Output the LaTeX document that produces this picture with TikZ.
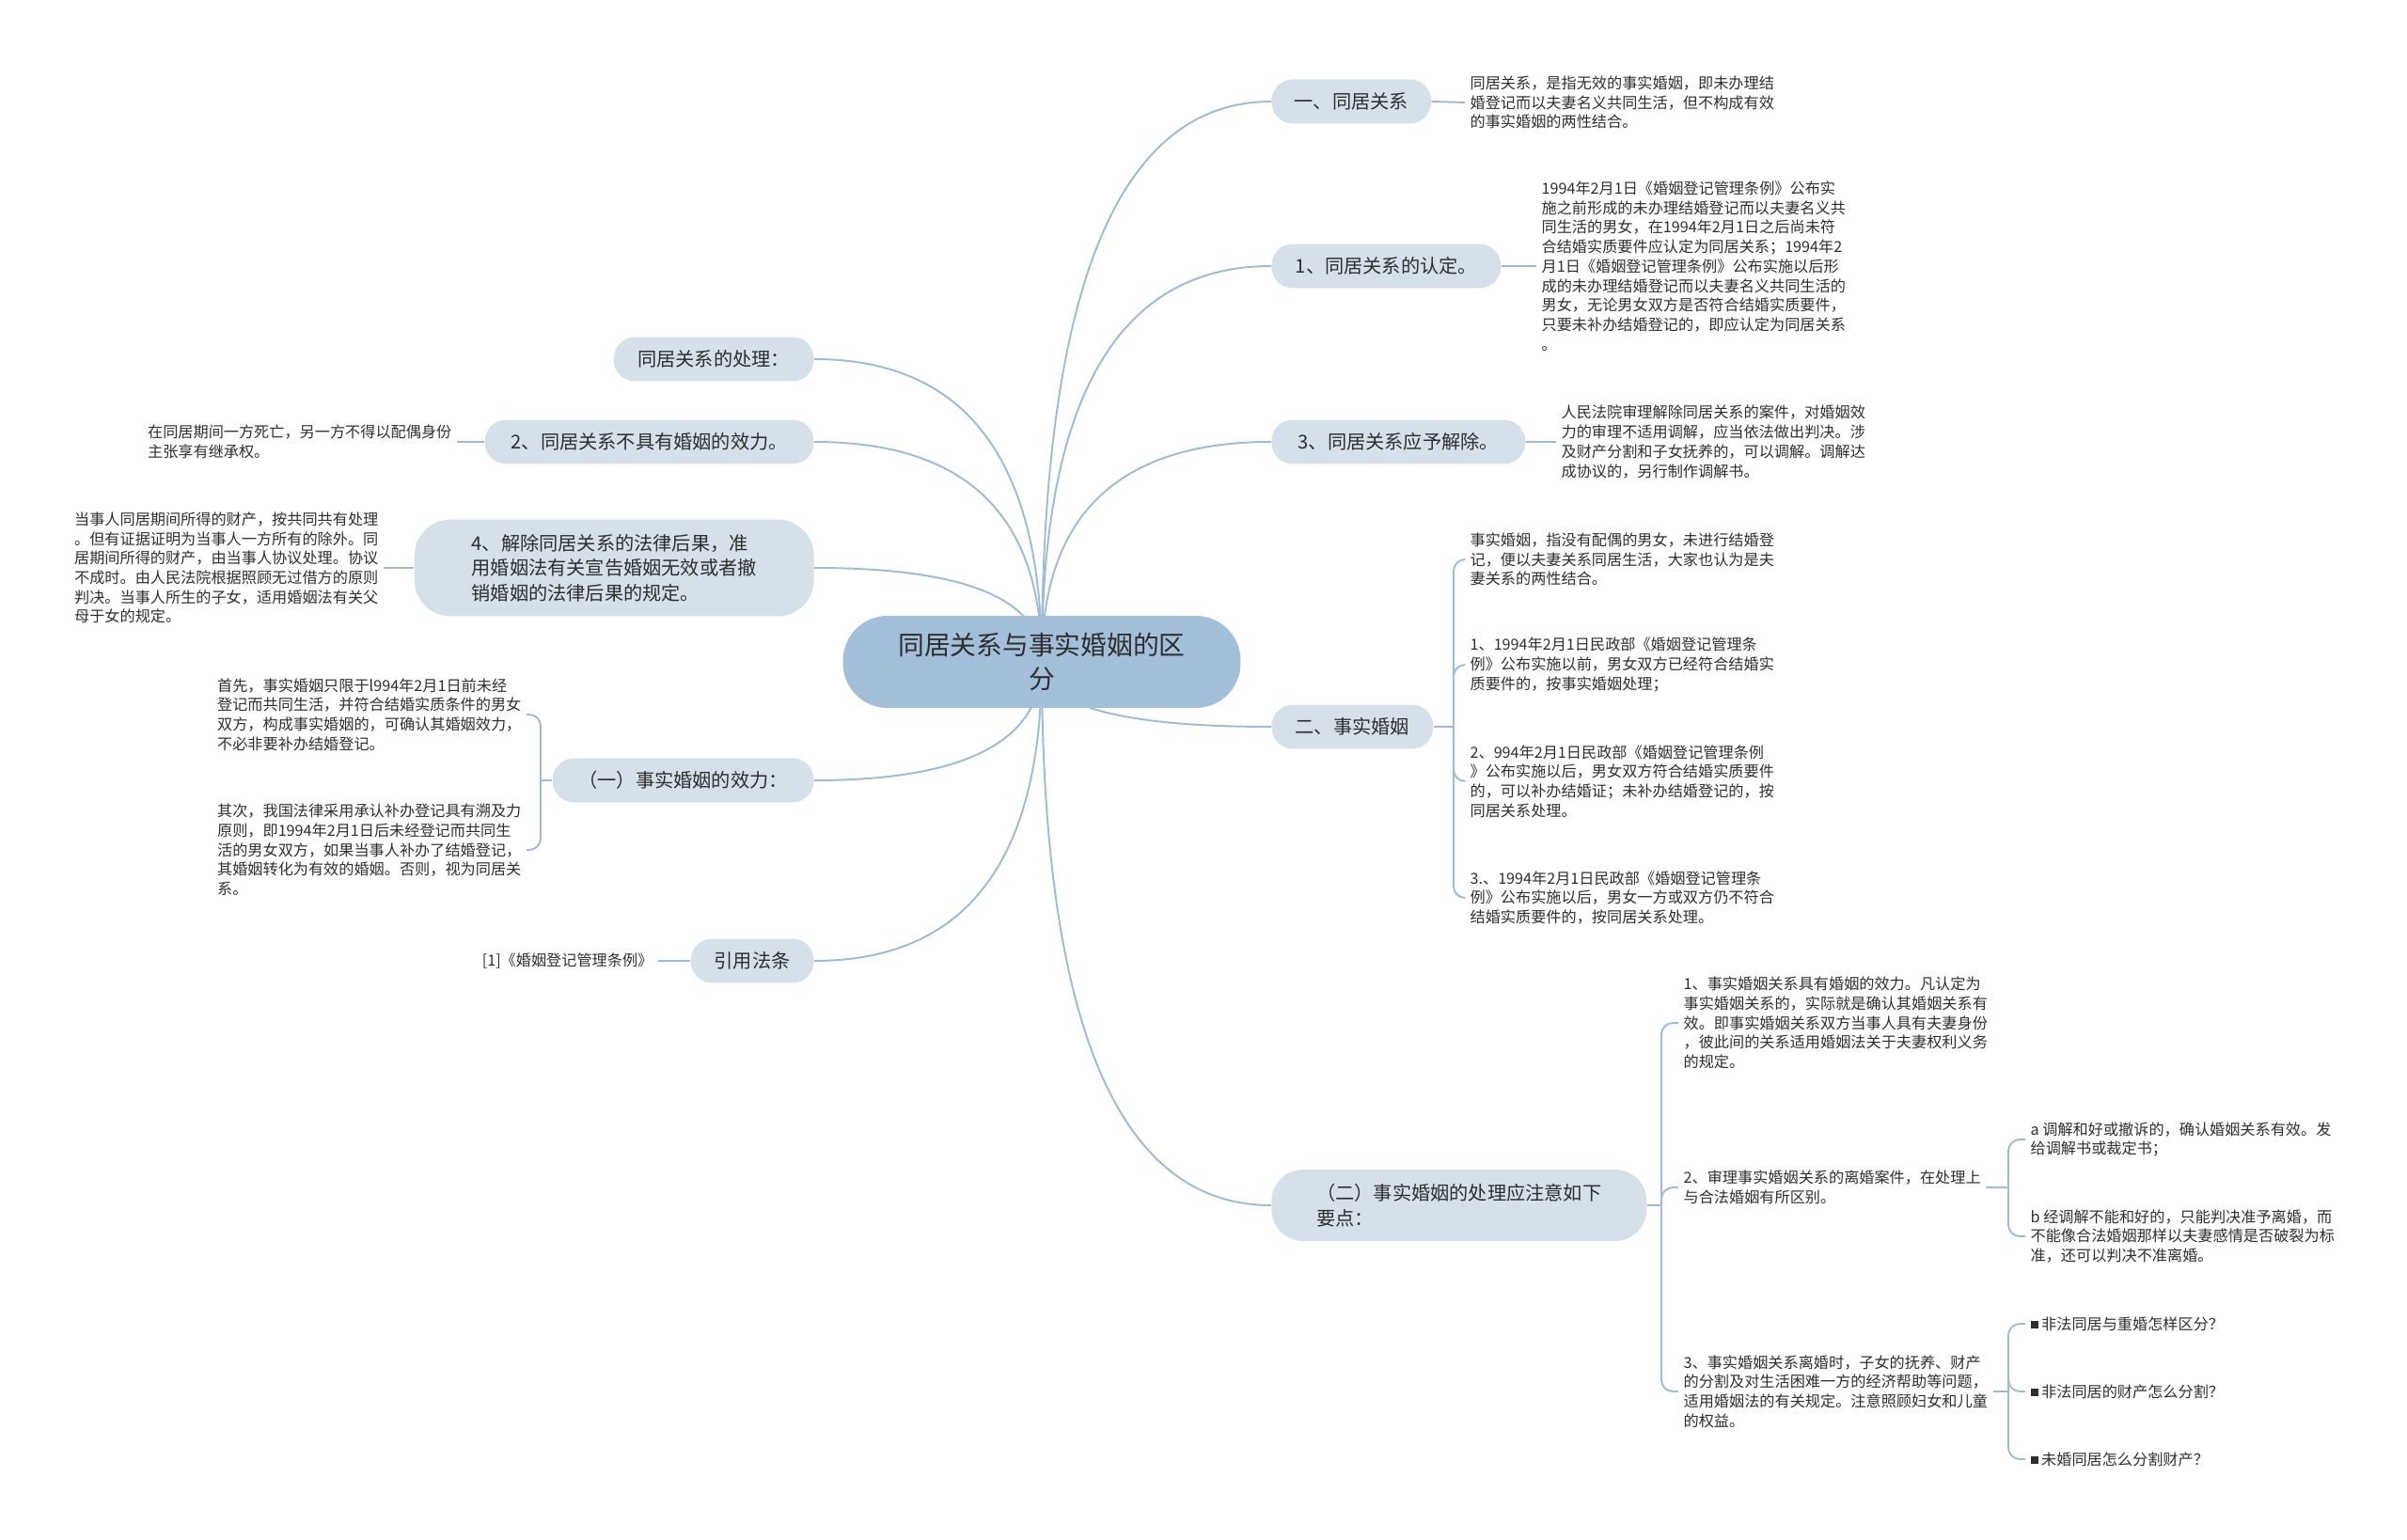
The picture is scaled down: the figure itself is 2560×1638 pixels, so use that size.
\documentclass[tikz,border=0pt]{standalone}
\usepackage{fontspec}
\newfontfamily\cjk{Noto Sans CJK SC}
\usepackage{tikz}
\usetikzlibrary{backgrounds,calc}
\definecolor{MMRoot}{HTML}{A4BFDA}
\definecolor{MMTopic}{HTML}{D5E0EA}
\definecolor{MMLine}{HTML}{9EBAD4}
\definecolor{MMText}{HTML}{2E2E2E}

\begin{document}
\begin{tikzpicture}[x=0.02cm,y=-0.02cm,
  root/.style={fill=MMRoot,text=MMText,rounded corners=27pt,minimum width=8.46cm,minimum height=1.96cm,align=center,font=\cjk\fontsize{15.8}{20.4}\selectfont},
  topic/.style={fill=MMTopic,text=MMText,rounded corners=13pt,minimum height=0.94cm,align=left,font=\cjk\fontsize{11.5}{15}\selectfont},
  leaf/.style={text=MMText,align=left,inner sep=3pt,font=\cjk\fontsize{9.2}{11.8}\selectfont},
  link/.style={draw=MMLine,line width=1.1pt},
  fork/.style={link,rounded corners=7pt}]
\useasboundingbox (0,0) rectangle (2560,1638);

\node[root] (root) at (1108,704) {同居关系与事实婚姻的区\\分};

% right side
\node[topic,anchor=west,minimum width=3.4cm] (rel) at (1352,108) {一、同居关系};
\node[topic,anchor=west,minimum width=4.88cm] (rec) at (1352,283) {1、同居关系的认定。};
\node[topic,anchor=west,minimum width=5.4cm] (dis) at (1352,470) {3、同居关系应予解除。};
\node[topic,anchor=west,minimum width=3.44cm] (fact) at (1352,773) {二、事实婚姻};
\node[topic,anchor=west,minimum width=7.98cm,minimum height=1.52cm,rounded corners=19pt] (note) at (1352,1282) {（二）事实婚姻的处理应注意如下\\要点：};

% left side
\node[topic,anchor=east,minimum width=4.26cm] (deal) at (866,382) {同居关系的处理：};
\node[topic,anchor=east,minimum width=7cm] (noeff) at (866,470) {2、同居关系不具有婚姻的效力。};
\node[topic,anchor=east,minimum width=8.5cm,minimum height=2.06cm,rounded corners=22pt] (end) at (866,604) {4、解除同居关系的法律后果，准\\用婚姻法有关宣告婚姻无效或者撤\\销婚姻的法律后果的规定。};
\node[topic,anchor=east,minimum width=5.56cm] (eff) at (866,830) {（一）事实婚姻的效力：};
\node[topic,anchor=east,minimum width=2.62cm] (law) at (866,1022) {引用法条};

% leaves, right
\node[leaf,anchor=west] (rel-l) at (1558,109) {同居关系，是指无效的事实婚姻，即未办理结\\婚登记而以夫妻名义共同生活，但不构成有效\\的事实婚姻的两性结合。};
\node[leaf,anchor=west] (rec-l) at (1634,283) {1994年2月1日《婚姻登记管理条例》公布实\\施之前形成的未办理结婚登记而以夫妻名义共\\同生活的男女，在1994年2月1日之后尚未符\\合结婚实质要件应认定为同居关系；1994年2\\月1日《婚姻登记管理条例》公布实施以后形\\成的未办理结婚登记而以夫妻名义共同生活的\\男女，无论男女双方是否符合结婚实质要件，\\只要未补办结婚登记的，即应认定为同居关系\\。};
\node[leaf,anchor=west] (dis-l) at (1655,470) {人民法院审理解除同居关系的案件，对婚姻效\\力的审理不适用调解，应当依法做出判决。涉\\及财产分割和子女抚养的，可以调解。调解达\\成协议的，另行制作调解书。};

\node[leaf,anchor=west] (fact-1) at (1558,595) {事实婚姻，指没有配偶的男女，未进行结婚登\\记，便以夫妻关系同居生活，大家也认为是夫\\妻关系的两性结合。};
\node[leaf,anchor=west] (fact-2) at (1558,707) {1、1994年2月1日民政部《婚姻登记管理条\\例》公布实施以前，男女双方已经符合结婚实\\质要件的，按事实婚姻处理；};
\node[leaf,anchor=west] (fact-3) at (1558,831) {2、994年2月1日民政部《婚姻登记管理条例\\》公布实施以后，男女双方符合结婚实质要件\\的，可以补办结婚证；未补办结婚登记的，按\\同居关系处理。};
\node[leaf,anchor=west] (fact-4) at (1558,955) {3.、1994年2月1日民政部《婚姻登记管理条\\例》公布实施以后，男女一方或双方仍不符合\\结婚实质要件的，按同居关系处理。};

\node[leaf,anchor=west] (note-1) at (1785,1088) {1、事实婚姻关系具有婚姻的效力。凡认定为\\事实婚姻关系的，实际就是确认其婚姻关系有\\效。即事实婚姻关系双方当事人具有夫妻身份\\，彼此间的关系适用婚姻法关于夫妻权利义务\\的规定。};
\node[leaf,anchor=west] (note-2) at (1785,1263) {2、审理事实婚姻关系的离婚案件，在处理上\\与合法婚姻有所区别。};
\node[leaf,anchor=west] (note-3) at (1785,1480) {3、事实婚姻关系离婚时，子女的抚养、财产\\的分割及对生活困难一方的经济帮助等问题，\\适用婚姻法的有关规定。注意照顾妇女和儿童\\的权益。};

\node[leaf,anchor=west] (note-2a) at (2154,1212) {a 调解和好或撤诉的，确认婚姻关系有效。发\\给调解书或裁定书；};
\node[leaf,anchor=west] (note-2b) at (2154,1315) {b 经调解不能和好的，只能判决准予离婚，而\\不能像合法婚姻那样以夫妻感情是否破裂为标\\准，还可以判决不准离婚。};
\node[leaf,anchor=west] (note-3a) at (2154,1408) {\rule[0.6pt]{4.5pt}{4.5pt} 非法同居与重婚怎样区分？};
\node[leaf,anchor=west] (note-3b) at (2154,1480) {\rule[0.6pt]{4.5pt}{4.5pt} 非法同居的财产怎么分割？};
\node[leaf,anchor=west] (note-3c) at (2154,1552) {\rule[0.6pt]{4.5pt}{4.5pt} 未婚同居怎么分割财产？};

% leaves, left
\node[leaf,anchor=east] (noeff-l) at (486,470) {在同居期间一方死亡，另一方不得以配偶身份\\主张享有继承权。};
\node[leaf,anchor=east] (end-l) at (408,604) {当事人同居期间所得的财产，按共同共有处理\\。但有证据证明为当事人一方所有的除外。同\\居期间所得的财产，由当事人协议处理。协议\\不成时。由人民法院根据照顾无过借方的原则\\判决。当事人所生的子女，适用婚姻法有关父\\母于女的规定。};
\node[leaf,anchor=east] (eff-1) at (560,760) {首先，事实婚姻只限于l994年2月1日前未经\\登记而共同生活，并符合结婚实质条件的男女\\双方，构成事实婚姻的，可确认其婚姻效力，\\不必非要补办结婚登记。};
\node[leaf,anchor=east] (eff-2) at (560,904) {其次，我国法律采用承认补办登记具有溯及力\\原则，即1994年2月1日后未经登记而共同生\\活的男女双方，如果当事人补办了结婚登记，\\其婚姻转化为有效的婚姻。否则，视为同居关\\系。};
\node[leaf,anchor=east] (law-l) at (700,1022) {[1]《婚姻登记管理条例》};

% fork points
\coordinate (fact-f) at (1546,773);
\coordinate (note-f) at (1767,1282);
\coordinate (note-2f) at (2136,1263);
\coordinate (note-3f) at (2136,1480);
\coordinate (eff-f) at (575,830);

\begin{scope}[on background layer]
\foreach \t in {rel,rec,dis,fact,note}
  \draw[link] (root.center) .. controls ($(root.center)!0.667!(root.center |- \t.west)$) and ($(\t.west)!0.667!(root.center |- \t.west)$) .. (\t.west);
\foreach \t in {deal,noeff,end,eff,law}
  \draw[link] (root.center) .. controls ($(root.center)!0.667!(root.center |- \t.east)$) and ($(\t.east)!0.667!(root.center |- \t.east)$) .. (\t.east);
\end{scope}

\foreach \t in {rel,rec,dis}
  \draw[link] (\t.east) -- (\t-l.west);
\foreach \t in {noeff,end,law}
  \draw[link] (\t.west) -- (\t-l.east);

\draw[link] (fact.east) -- (fact-f);
\foreach \i in {1,...,4}
  \draw[fork] (fact-f) |- (fact-\i.west);
\draw[link] (note.east) -- (note-f);
\foreach \i in {1,2,3}
  \draw[fork] (note-f) |- (note-\i.west);
\draw[link] (note-2.east) -- (note-2f);
\foreach \i in {a,b}
  \draw[fork] (note-2f) |- (note-2\i.west);
\draw[link] (note-3.east) -- (note-3f);
\foreach \i in {a,b,c}
  \draw[fork] (note-3f) |- (note-3\i.west);
\draw[link] (eff.west) -- (eff-f);
\foreach \i in {1,2}
  \draw[fork] (eff-f) |- (eff-\i.east);
\end{tikzpicture}
\end{document}
